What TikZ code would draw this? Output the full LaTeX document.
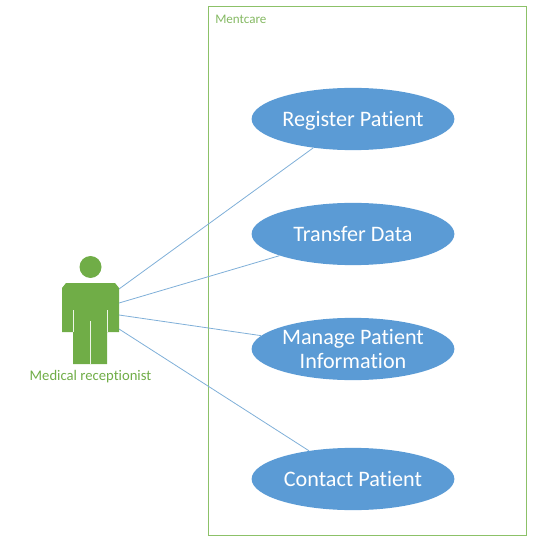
\documentclass[tikz,border=0pt]{standalone}
\usepackage{fontspec}
\setmainfont[Ligatures=NoCommon]{Carlito}
\usepackage{tikz}
\usetikzlibrary{positioning,shapes.geometric}
\definecolor{usecaseblue}{HTML}{5B9BD5}
\definecolor{actorgreen}{HTML}{70AD47}
\definecolor{boxgreen}{HTML}{8CC168}
\definecolor{linkblue}{HTML}{7FAFD8}
\tikzset{
  usecase/.style={draw=none, ellipse, fill=usecaseblue, text=white, minimum width=202bp*0.75, minimum height=62bp*0.75, inner sep=0pt, align=center, font=\fontsize{16.6}{18.4}\selectfont},
  systembox/.style={draw=boxgreen, line width=0.75pt},
  systemlabel/.style={text=actorgreen!85!white, inner sep=0pt, font=\fontsize{9.8}{11}\selectfont},
  actorlabel/.style={text=actorgreen, inner sep=0pt, font=\fontsize{11}{13}\selectfont},
  actorhead/.style={circle, fill=actorgreen, draw=none, minimum size=16.5pt, inner sep=0pt},
  gapline/.style={draw=white!88!actorgreen, line width=0.6pt},
  link/.style={draw=linkblue, line width=0.6pt}
}

\begin{document}
\begin{tikzpicture}[x=0.75pt, y=-0.75pt]
  \useasboundingbox (0,0) rectangle (537,555);
  \node[systembox, minimum width=318*0.75pt, minimum height=528*0.75pt, inner sep=0pt] (mentcare) at (367,271) {};
  \node[systemlabel, anchor=west] (mentcarelabel) at (215,19.5) {Mentcare};

  \coordinate (armone) at (119,289);
  \coordinate (armtwo) at (119,303);
  \coordinate (armthree) at (119,315);
  \coordinate (armfour) at (119,329);

  \node[usecase, text depth=0pt] (register) at (353,119) {Register Patient};
  \node[usecase] (transfer) at (353,234) {Transfer Data};
  \node[usecase] (manage) at (353,349) {Manage Patient\\Information};
  \node[usecase] (contact) at (353,479) {Contact Patient};

  \draw[link] (armone) -- (register);
  \draw[link] (armtwo) -- (transfer);
  \draw[link] (armthree) -- (manage);
  \draw[link] (armfour) -- (contact);

  % actor
  \node[actorhead] (head) at (90.5,267) {};
  \fill[actorgreen] (66,283) -- (115,283) -- (119,288) -- (119,332) -- (107,332) -- (107,364) -- (73,364) -- (73,332) -- (62,332) -- (62,288) -- cycle;
  \draw[gapline] (73,310) -- (73,332);
  \draw[gapline] (107,310) -- (107,332);
  \draw[gapline] (90,321) -- (90,364);
  \node[actorlabel] (receptionist) at (90.5,377) {Medical receptionist};
\end{tikzpicture}
\end{document}
